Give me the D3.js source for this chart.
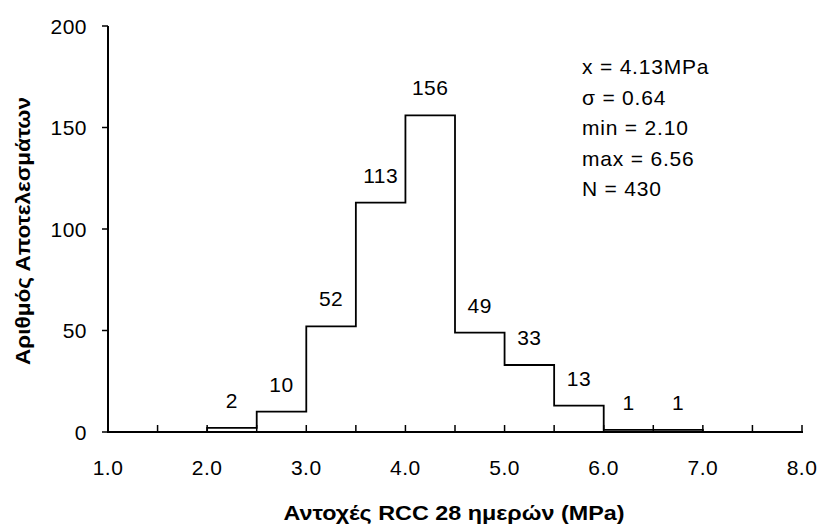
<!DOCTYPE html>
<html><head><meta charset="utf-8">
<script src="https://cdn.jsdelivr.net/npm/d3@7"></script>
<style>body{margin:0;background:#fff}svg{display:block}text{font-family:"Liberation Sans",Arial,sans-serif;fill:#000}</style>
</head><body>
<svg id="c" width="820" height="529"></svg>
<script>
const binEdges = [2.0, 2.5, 3.0, 3.5, 4.0, 4.5, 5.0, 5.5, 6.0, 6.5, 7.0];
const counts = [2, 10, 52, 113, 156, 49, 33, 13, 1, 1];
const xTicks = [1, 2, 3, 4, 5, 6, 7, 8];
const xMinorTicks = [1.5, 2.5, 3.5, 4.5, 5.5, 6.5, 7.5];
const yTicks = [0, 50, 100, 150, 200];
const statLines = ["x = 4.13MPa", "σ = 0.64", "min = 2.10", "max = 6.56", "N = 430"];
const xTitle = "Αντοχές RCC 28 ημερών (MPa)";
const yTitle = "Αριθμός Αποτελεσμάτων";

const svg = d3.select("#c");
const x = d3.scaleLinear().domain([1, 8]).range([108, 802]);
const y = d3.scaleLinear().domain([0, 200]).range([432, 26]);
const FS = 21;

// histogram outline
const pts = [[binEdges[0], 0]];
counts.forEach((c, i) => { pts.push([binEdges[i], c]); pts.push([binEdges[i + 1], c]); });
pts.push([binEdges[binEdges.length - 1], 0]);
svg.append("path")
  .attr("d", d3.line().x(d => x(d[0])).y(d => y(d[1]))(pts))
  .attr("fill", "none").attr("stroke", "#000").attr("stroke-width", 1.8);

// x axis
const xa = svg.append("g").attr("transform", "translate(0,432)");
xa.append("line").attr("x1", x(1) - 1).attr("x2", x(8) + 1).attr("stroke", "#000").attr("stroke-width", 2);
xa.selectAll(".mt").data(xTicks.concat(xMinorTicks)).enter().append("line")
  .attr("x1", d => x(d)).attr("x2", d => x(d)).attr("y1", 0).attr("y2", -7)
  .attr("stroke", "#000").attr("stroke-width", 1.5);
xa.selectAll(".tl").data(xTicks).enter().append("text")
  .attr("x", d => x(d)).attr("y", 43).attr("text-anchor", "middle")
  .attr("font-size", FS).attr("letter-spacing", 0.5).text(d => d.toFixed(1));

// y axis
const ya = svg.append("g").attr("transform", "translate(108,0)");
ya.append("line").attr("y1", y(0) + 1).attr("y2", y(200)).attr("stroke", "#000").attr("stroke-width", 2);
ya.selectAll(".yt").data(yTicks).enter().append("line")
  .attr("x1", 0).attr("x2", -6).attr("y1", d => y(d)).attr("y2", d => y(d))
  .attr("stroke", "#000").attr("stroke-width", 1.5);
ya.selectAll(".yl").data(yTicks).enter().append("text")
  .attr("x", -21).attr("y", d => y(d) + 7.5).attr("text-anchor", "end")
  .attr("font-size", FS).attr("letter-spacing", 0.5).text(d => d);

// count labels
svg.selectAll(".cl").data(counts).enter().append("text")
  .attr("x", (d, i) => x((binEdges[i] + binEdges[i + 1]) / 2))
  .attr("y", d => y(d) - 20)
  .attr("text-anchor", "middle").attr("font-size", FS).attr("letter-spacing", 0.5).text(d => d);

// stats
svg.selectAll(".st").data(statLines).enter().append("text")
  .attr("x", 582).attr("y", (d, i) => 74 + i * 30.5)
  .attr("font-size", FS).attr("letter-spacing", 0.8).text(d => d);

// titles
svg.append("text").attr("x", 454).attr("y", 520).attr("text-anchor", "middle")
  .attr("font-size", 21).attr("font-weight", "bold")
  .attr("textLength", 341).attr("lengthAdjust", "spacingAndGlyphs").text(xTitle);
svg.append("text").attr("transform", "translate(30,231) rotate(-90)").attr("text-anchor", "middle")
  .attr("font-size", 21).attr("font-weight", "bold")
  .attr("textLength", 268).attr("lengthAdjust", "spacingAndGlyphs").text(yTitle);
</script>
</body></html>
